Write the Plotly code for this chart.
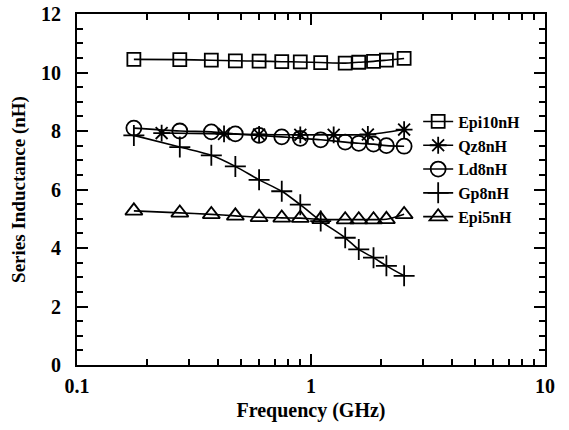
import plotly.graph_objects as go

freq = [0.175, 0.275, 0.375, 0.475, 0.6, 0.75, 0.9, 1.1, 1.4, 1.6, 1.85, 2.1, 2.5]
freq_qz = [0.23, 0.425, 0.6, 0.9, 1.25, 1.75, 2.5]

epi10 = [10.45, 10.44, 10.42, 10.40, 10.39, 10.37, 10.36, 10.34, 10.32, 10.35, 10.38, 10.42, 10.48]
qz8 = [7.93, 7.9, 7.88, 7.87, 7.87, 7.88, 8.05]
ld8 = [8.1, 8.0, 7.97, 7.9, 7.85, 7.8, 7.75, 7.7, 7.62, 7.58, 7.55, 7.5, 7.48]
gp8 = [7.85, 7.45, 7.17, 6.79, 6.33, 5.94, 5.48, 4.92, 4.35, 3.95, 3.67, 3.39, 3.05]
epi5 = [5.27, 5.2, 5.15, 5.1, 5.05, 5.03, 5.02, 4.98, 4.97, 4.97, 4.97, 4.98, 5.15]

names = ["Epi10nH", "Qz8nH", "Ld8nH", "Gp8nH", "Epi5nH"]
symbols = ["square-open", "asterisk-open", "circle-open", "cross-thin-open", "triangle-up-open"]
sizes = [13, 14, 15, 15, 15]

x_major = [0.1, 1, 10]
x_major_text = ["0.1", "1", "10"]
x_minor = [0.2, 0.3, 0.4, 0.5, 0.6, 0.7, 0.8, 0.9, 2, 3, 4, 5, 6, 7, 8, 9]

FONT = "Liberation Serif"

fig = go.Figure()
series = [(freq, epi10), (freq_qz, qz8), (freq, ld8), (freq, gp8), (freq, epi5)]
for (xs, ys), name, sym, sz in zip(series, names, symbols, sizes):
    fig.add_trace(go.Scatter(
        x=xs, y=ys, name=name, mode="lines+markers",
        line=dict(color="black", width=1.6, shape="spline", smoothing=0.8),
        marker=dict(symbol=sym, size=sz, color="black", line=dict(color="black", width=1.8)),
    ))

axis_common = dict(
    showline=True, linecolor="black", linewidth=2, mirror="ticks", automargin=False,
    ticks="inside", tickcolor="black", tickwidth=2, showgrid=False, zeroline=False,
    tickfont=dict(family=FONT, size=20, color="black", weight="bold"),
)

fig.update_xaxes(
    type="log", range=[-1, 1], tickvals=x_major, ticktext=x_major_text, ticklen=11,
    ticklabelstandoff=2,
    minor=dict(tickvals=x_minor, ticks="inside", ticklen=6, tickcolor="black", tickwidth=1.5),
    title=dict(text="Frequency (GHz)", font=dict(family=FONT, size=20, color="black", weight="bold"), standoff=7),
    **axis_common,
)
fig.update_yaxes(
    range=[0, 12], dtick=2, tick0=0, ticklen=11,
    ticklabelstandoff=10,
    minor=dict(dtick=0.5, ticks="inside", ticklen=6, tickcolor="black", tickwidth=1.5),
    title=dict(text="Series Inductance (nH)", font=dict(family=FONT, size=19, color="black", weight="bold"), standoff=10),
    **axis_common,
)

fig.update_layout(
    width=569, height=430,
    margin=dict(l=77, r=24, t=14, b=65, autoexpand=False),
    paper_bgcolor="white", plot_bgcolor="white",
    showlegend=True,
    legend=dict(
        x=0.729, y=0.742, xanchor="left", yanchor="top",
        bgcolor="rgba(0,0,0,0)", itemwidth=30,
        font=dict(family=FONT, size=16, color="black", weight="bold"),
        tracegroupgap=0, itemsizing="trace",
    ),
)

# remove the page's default 8px body margin so the figure fills the window exactly
fig.write_html("out.html", config={"displayModeBar": False},
               post_script="document.body.style.margin='0';")
